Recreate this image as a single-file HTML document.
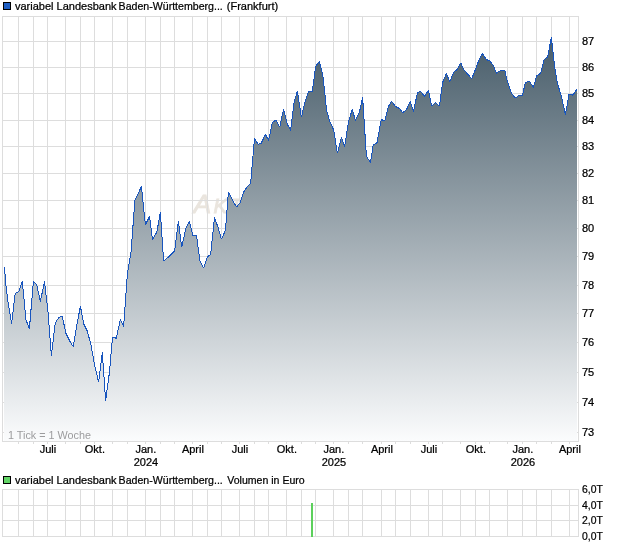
<!DOCTYPE html>
<html lang="de"><head><meta charset="utf-8"><title>Chart</title>
<style>html,body{margin:0;padding:0;background:#fff}body{width:620px;height:546px;overflow:hidden}svg{display:block}text{font-family:"Liberation Sans",Arial,sans-serif;font-size:11px;fill:#000;stroke:#000;stroke-width:0.24px}</style></head><body>
<svg width="620" height="546" viewBox="0 0 620 546">
<defs><linearGradient id="g" gradientUnits="userSpaceOnUse" x1="0" y1="16" x2="0" y2="441"><stop offset="0" stop-color="#3e5462"/><stop offset="1" stop-color="#fbfcfd"/></linearGradient></defs>
<rect width="620" height="546" fill="#fff"/>
<text y="213" style="font-style:italic;fill:#eae5de;stroke:#eae5de;stroke-width:0.9px"><tspan x="193.6" style="font-size:26.5px">A</tspan><tspan x="213.6" style="font-size:20.5px">K</tspan><tspan x="229.4" style="font-size:20.5px">T</tspan></text>
<path d="M18.5 16V442M33.5 16V442M47.5 16V442M65.5 16V442M80.5 16V442M94.5 16V442M112.5 16V442M127.5 16V442M145.5 16V442M160.5 16V442M174.5 16V442M192.5 16V442M207.5 16V442M221.5 16V442M239.5 16V442M254.5 16V442M268.5 16V442M286.5 16V442M301.5 16V442M315.5 16V442M333.5 16V442M348.5 16V442M362.5 16V442M381.5 16V442M395.5 16V442M410.5 16V442M428.5 16V442M442.5 16V442M460.5 16V442M475.5 16V442M489.5 16V442M507.5 16V442M522.5 16V442M536.5 16V442M551.5 16V442M569.5 16V442M2 41.5H579M2 67.5H579M2 93.5H579M2 120.5H579M2 146.5H579M2 173.5H579M2 200.5H579M2 228.5H579M2 256.5H579M2 285.5H579M2 313.5H579M2 342.5H579M2 372.5H579M2 402.5H579M2 432.5H579" stroke="#dddddd" stroke-width="1" fill="none" shape-rendering="crispEdges"/>
<path d="M4.5 267.0 L5.7 284.0 L7.6 299.0 L11.6 323.5 L15.2 293.5 L18.7 291.5 L22.3 281.3 L26.0 320.0 L29.4 328.7 L33.4 281.3 L36.6 284.5 L40.4 301.5 L44.5 281.3 L48.0 312.0 L51.4 355.8 L55.2 323.0 L58.7 317.7 L62.3 316.2 L65.8 333.0 L69.7 341.0 L73.3 346.8 L76.8 325.0 L80.4 306.2 L83.7 324.0 L87.2 331.0 L90.8 344.0 L95.0 367.0 L98.6 382.0 L102.3 352.3 L105.6 400.6 L109.5 372.0 L112.5 337.0 L116.4 338.3 L120.3 319.4 L123.6 326.5 L127.4 274.0 L131.2 251.0 L134.8 200.6 L138.4 193.0 L141.4 186.5 L145.4 225.0 L149.5 216.2 L152.5 239.4 L156.8 232.3 L160.4 212.3 L163.6 261.3 L167.3 258.0 L171.0 254.5 L174.6 251.0 L178.4 221.1 L181.7 247.0 L185.7 229.0 L189.4 221.5 L192.8 235.3 L196.5 235.7 L199.9 260.5 L203.5 268.2 L207.4 256.6 L210.6 254.7 L214.5 217.5 L217.7 226.3 L221.4 239.2 L225.5 230.2 L228.4 192.3 L232.5 200.0 L236.4 207.0 L240.0 203.0 L243.7 192.0 L247.1 186.8 L250.6 183.5 L254.5 138.2 L258.1 144.4 L261.3 143.1 L265.4 134.3 L268.6 140.5 L272.3 122.4 L276.1 120.1 L279.7 127.3 L283.5 109.3 L287.1 123.7 L290.6 130.4 L294.2 101.8 L297.4 91.2 L301.4 117.2 L305.2 101.4 L308.4 91.4 L312.3 91.3 L315.7 66.1 L319.4 61.4 L323.0 76.5 L326.7 111.0 L330.0 121.9 L333.6 129.7 L337.4 153.2 L341.4 137.4 L344.6 146.5 L348.7 121.0 L352.3 109.3 L355.4 120.4 L359.5 112.0 L362.6 97.0 L366.4 156.1 L370.4 162.6 L373.2 145.2 L377.1 142.6 L381.2 119.7 L384.8 120.5 L388.5 106.5 L391.6 101.3 L395.5 106.5 L399.4 108.4 L402.6 112.6 L406.5 109.7 L410.3 101.3 L413.5 111.6 L417.4 92.9 L420.6 91.2 L424.5 96.4 L428.4 90.3 L431.6 106.2 L435.5 102.3 L439.4 106.2 L442.6 82.6 L446.5 73.2 L449.7 82.2 L453.7 72.0 L457.0 69.7 L460.6 62.8 L464.5 70.6 L468.1 74.5 L471.7 78.8 L475.2 70.0 L478.6 61.0 L482.3 53.2 L486.1 59.4 L490.0 61.0 L493.2 65.5 L496.5 73.2 L501.0 70.3 L504.8 70.6 L507.4 81.6 L511.3 93.2 L515.4 98.1 L518.9 95.2 L522.4 95.2 L525.5 82.3 L529.4 81.4 L533.5 87.4 L536.5 75.8 L540.7 73.2 L544.2 59.7 L547.7 56.8 L551.4 37.1 L554.5 66.0 L557.6 84.0 L561.3 95.8 L565.4 114.8 L569.0 94.2 L572.9 95.1 L576.8 89.4 L577 441 L4 441 L4 267.0Z" fill="url(#g)" shape-rendering="crispEdges"/>
<path d="M4.5 267.0 L5.7 284.0 L7.6 299.0 L11.6 323.5 L15.2 293.5 L18.7 291.5 L22.3 281.3 L26.0 320.0 L29.4 328.7 L33.4 281.3 L36.6 284.5 L40.4 301.5 L44.5 281.3 L48.0 312.0 L51.4 355.8 L55.2 323.0 L58.7 317.7 L62.3 316.2 L65.8 333.0 L69.7 341.0 L73.3 346.8 L76.8 325.0 L80.4 306.2 L83.7 324.0 L87.2 331.0 L90.8 344.0 L95.0 367.0 L98.6 382.0 L102.3 352.3 L105.6 400.6 L109.5 372.0 L112.5 337.0 L116.4 338.3 L120.3 319.4 L123.6 326.5 L127.4 274.0 L131.2 251.0 L134.8 200.6 L138.4 193.0 L141.4 186.5 L145.4 225.0 L149.5 216.2 L152.5 239.4 L156.8 232.3 L160.4 212.3 L163.6 261.3 L167.3 258.0 L171.0 254.5 L174.6 251.0 L178.4 221.1 L181.7 247.0 L185.7 229.0 L189.4 221.5 L192.8 235.3 L196.5 235.7 L199.9 260.5 L203.5 268.2 L207.4 256.6 L210.6 254.7 L214.5 217.5 L217.7 226.3 L221.4 239.2 L225.5 230.2 L228.4 192.3 L232.5 200.0 L236.4 207.0 L240.0 203.0 L243.7 192.0 L247.1 186.8 L250.6 183.5 L254.5 138.2 L258.1 144.4 L261.3 143.1 L265.4 134.3 L268.6 140.5 L272.3 122.4 L276.1 120.1 L279.7 127.3 L283.5 109.3 L287.1 123.7 L290.6 130.4 L294.2 101.8 L297.4 91.2 L301.4 117.2 L305.2 101.4 L308.4 91.4 L312.3 91.3 L315.7 66.1 L319.4 61.4 L323.0 76.5 L326.7 111.0 L330.0 121.9 L333.6 129.7 L337.4 153.2 L341.4 137.4 L344.6 146.5 L348.7 121.0 L352.3 109.3 L355.4 120.4 L359.5 112.0 L362.6 97.0 L366.4 156.1 L370.4 162.6 L373.2 145.2 L377.1 142.6 L381.2 119.7 L384.8 120.5 L388.5 106.5 L391.6 101.3 L395.5 106.5 L399.4 108.4 L402.6 112.6 L406.5 109.7 L410.3 101.3 L413.5 111.6 L417.4 92.9 L420.6 91.2 L424.5 96.4 L428.4 90.3 L431.6 106.2 L435.5 102.3 L439.4 106.2 L442.6 82.6 L446.5 73.2 L449.7 82.2 L453.7 72.0 L457.0 69.7 L460.6 62.8 L464.5 70.6 L468.1 74.5 L471.7 78.8 L475.2 70.0 L478.6 61.0 L482.3 53.2 L486.1 59.4 L490.0 61.0 L493.2 65.5 L496.5 73.2 L501.0 70.3 L504.8 70.6 L507.4 81.6 L511.3 93.2 L515.4 98.1 L518.9 95.2 L522.4 95.2 L525.5 82.3 L529.4 81.4 L533.5 87.4 L536.5 75.8 L540.7 73.2 L544.2 59.7 L547.7 56.8 L551.4 37.1 L554.5 66.0 L557.6 84.0 L561.3 95.8 L565.4 114.8 L569.0 94.2 L572.9 95.1 L576.8 89.4" fill="none" stroke="#1855be" stroke-width="1" stroke-linejoin="bevel" shape-rendering="crispEdges"/>
<path d="M2.5 16.5H578.5V441.5H2.5Z" stroke="#dddddd" stroke-width="1" fill="none" shape-rendering="crispEdges"/>
<path d="M18.5 441V444M33.5 441V444M47.5 441V444M65.5 441V444M80.5 441V444M94.5 441V444M112.5 441V444M127.5 441V444M145.5 441V444M160.5 441V444M174.5 441V444M192.5 441V444M207.5 441V444M221.5 441V444M239.5 441V444M254.5 441V444M268.5 441V444M286.5 441V444M301.5 441V444M315.5 441V444M333.5 441V444M348.5 441V444M362.5 441V444M381.5 441V444M395.5 441V444M410.5 441V444M428.5 441V444M442.5 441V444M460.5 441V444M475.5 441V444M489.5 441V444M507.5 441V444M522.5 441V444M536.5 441V444M551.5 441V444M569.5 441V444" stroke="#dddddd" stroke-width="1" fill="none" shape-rendering="crispEdges"/>
<text x="582" y="44.5">87</text>
<text x="582" y="70.5">86</text>
<text x="582" y="96.5">85</text>
<text x="582" y="123.5">84</text>
<text x="582" y="149.5">83</text>
<text x="582" y="176.5">82</text>
<text x="582" y="203.5">81</text>
<text x="582" y="231.5">80</text>
<text x="582" y="259.5">79</text>
<text x="582" y="288.5">78</text>
<text x="582" y="316.5">77</text>
<text x="582" y="345.5">76</text>
<text x="582" y="375.5">75</text>
<text x="582" y="405.5">74</text>
<text x="582" y="435.5">73</text>
<text x="8" y="438.5" textLength="83" lengthAdjust="spacingAndGlyphs" style="fill:#9c9c9e;stroke:none">1 Tick = 1 Woche</text>
<text x="47.9" y="453" text-anchor="middle">Juli</text>
<text x="94.9" y="453" text-anchor="middle">Okt.</text>
<text x="145.9" y="453" text-anchor="middle">Jan.</text>
<text x="145.9" y="466" text-anchor="middle">2024</text>
<text x="192.9" y="453" text-anchor="middle">April</text>
<text x="239.9" y="453" text-anchor="middle">Juli</text>
<text x="286.9" y="453" text-anchor="middle">Okt.</text>
<text x="333.9" y="453" text-anchor="middle">Jan.</text>
<text x="333.9" y="466" text-anchor="middle">2025</text>
<text x="381.9" y="453" text-anchor="middle">April</text>
<text x="428.9" y="453" text-anchor="middle">Juli</text>
<text x="475.9" y="453" text-anchor="middle">Okt.</text>
<text x="522.9" y="453" text-anchor="middle">Jan.</text>
<text x="522.9" y="466" text-anchor="middle">2026</text>
<text x="569.9" y="453" text-anchor="middle">April</text>
<rect x="3.5" y="2.5" width="7" height="7" fill="#1f5fc4" stroke="#000" stroke-width="1" shape-rendering="crispEdges"/>
<text y="10"><tspan x="15">variabel Landesbank </tspan><tspan x="118.6" textLength="104.2" lengthAdjust="spacingAndGlyphs">Baden-Württemberg...</tspan><tspan x="226.8">(Frankfurt)</tspan></text>
<rect x="3.5" y="476.5" width="7" height="7" fill="#62d466" stroke="#000" stroke-width="1" shape-rendering="crispEdges"/>
<text y="484"><tspan x="15">variabel Landesbank </tspan><tspan x="118.6" textLength="104.2" lengthAdjust="spacingAndGlyphs">Baden-Württemberg...</tspan><tspan x="227.3" textLength="77.4" lengthAdjust="spacingAndGlyphs">Volumen in Euro</tspan></text>
<path d="M18.5 489V537M33.5 489V537M47.5 489V537M65.5 489V537M80.5 489V537M94.5 489V537M112.5 489V537M127.5 489V537M145.5 489V537M160.5 489V537M174.5 489V537M192.5 489V537M207.5 489V537M221.5 489V537M239.5 489V537M254.5 489V537M268.5 489V537M286.5 489V537M301.5 489V537M315.5 489V537M333.5 489V537M348.5 489V537M362.5 489V537M381.5 489V537M395.5 489V537M410.5 489V537M428.5 489V537M442.5 489V537M460.5 489V537M475.5 489V537M489.5 489V537M507.5 489V537M522.5 489V537M536.5 489V537M551.5 489V537M569.5 489V537M2 505.5H579M2 520.5H579M2.5 489.5H578.5V536.5H2.5Z" stroke="#dddddd" stroke-width="1" fill="none" shape-rendering="crispEdges"/>
<rect x="311" y="503" width="2" height="34" fill="#5cd05c"/>
<text x="582" y="492.5" textLength="20.8" lengthAdjust="spacingAndGlyphs">6,0T</text>
<text x="582" y="508.5" textLength="20.8" lengthAdjust="spacingAndGlyphs">4,0T</text>
<text x="582" y="523.5" textLength="20.8" lengthAdjust="spacingAndGlyphs">2,0T</text>
<text x="582" y="539.5" textLength="20.8" lengthAdjust="spacingAndGlyphs">0,0T</text>
</svg></body></html>
